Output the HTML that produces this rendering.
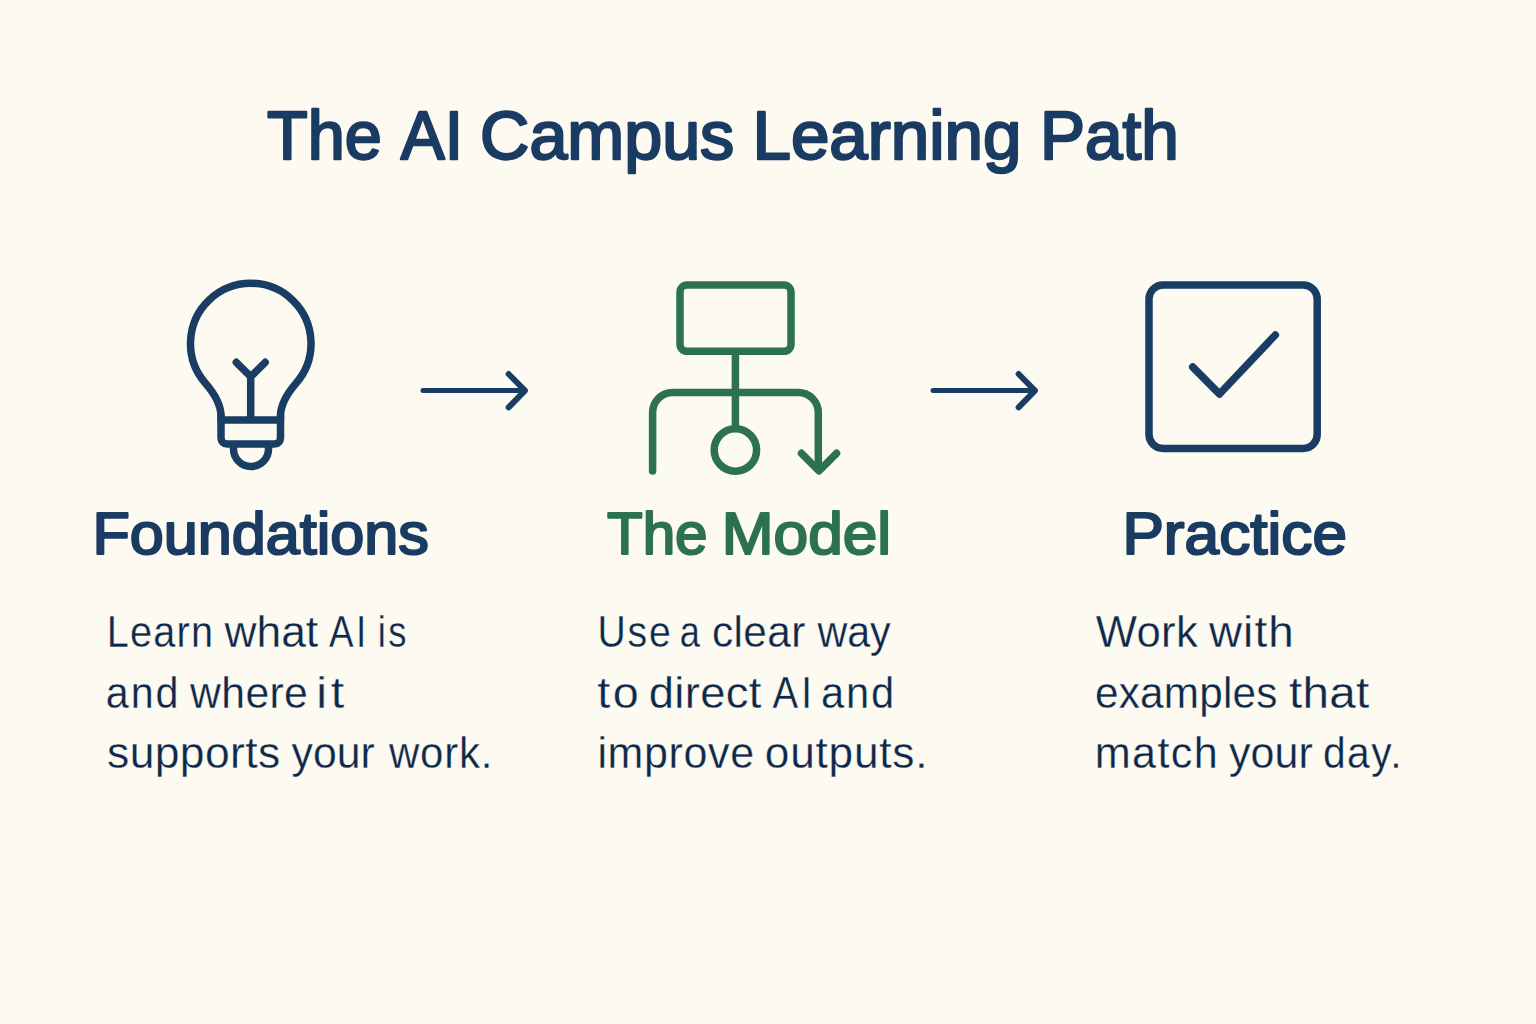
<!DOCTYPE html>
<html><head><meta charset="utf-8"><title>The AI Campus Learning Path</title>
<style>
html,body{margin:0;padding:0;background:#FDFAF1;}
body{width:1536px;height:1024px;overflow:hidden;position:relative;}
svg{position:absolute;left:0;top:0;display:block;}
text{font-family:"Liberation Sans",sans-serif;white-space:pre;}
</style></head>
<body>
<svg width="1536" height="1024" viewBox="0 0 1536 1024">
<rect x="0" y="0" width="1536" height="1024" fill="#FDFAF1"/>
<g fill="none" stroke="#1A3D63" stroke-width="7.5" stroke-linecap="round" stroke-linejoin="round">
<!-- lightbulb -->
<path d="M221 420 L221 416 C221 404 213.1 392.1 205.25 383 A60.25 60.25 0 1 1 296.25 383 C288.4 392.1 280.5 404 280.5 416 L280.5 420"/>
<path d="M236.3 362.3 L250.7 376.7 L265.2 362.3 M250.7 376.7 L250.7 417"/>
<path d="M221 416 L221 438 A6 6 0 0 0 227 444 L274.5 444 A6 6 0 0 0 280.5 438 L280.5 416 M221 420 L280.5 420"/>
<path d="M233.5 447 L233.5 449 A17.5 17.5 0 0 0 268.5 449 L268.5 447"/>
<!-- arrows -->
<path d="M423 390.6 L523 390.6" stroke-width="5.0"/><path d="M508.6 374 L525 390.6 L508.6 407.4" stroke-width="5.9"/>
<path d="M933 390.6 L1033 390.6" stroke-width="5.0"/><path d="M1018.6 374 L1035 390.6 L1018.6 407.4" stroke-width="5.9"/>
<!-- checkbox -->
<rect x="1149" y="285" width="168.2" height="163.4" rx="14" ry="14"/>
<path d="M1192.7 367 L1219.5 394 L1275.3 335"/>
</g>
<g fill="none" stroke="#2C7150" stroke-width="7.5" stroke-linecap="round" stroke-linejoin="round">
<rect x="680" y="285" width="111" height="66.3" rx="7" ry="7"/>
<path d="M735.4 354 L735.4 425"/>
<path d="M652.6 471 L652.6 412.6 A20 20 0 0 1 672.6 392.6 L798.3 392.6 A20 20 0 0 1 818.3 412.6 L818.3 469"/>
<circle cx="735.4" cy="450" r="21.2"/>
<path d="M801.5 453.3 L819 470.8 L836.5 453.3"/>
</g>
<text x="267.0" y="159.2" font-size="68.56"  fill="#1A3B62" stroke="#1A3B62" stroke-width="2.4" stroke-linejoin="round" textLength="114.64" lengthAdjust="spacingAndGlyphs">The</text>
<text x="400.82" y="159.2" font-size="68.56"  fill="#1A3B62" stroke="#1A3B62" stroke-width="2.4" stroke-linejoin="round" textLength="62.15" lengthAdjust="spacingAndGlyphs">AI</text>
<text x="480.12" y="159.2" font-size="68.56"  fill="#1A3B62" stroke="#1A3B62" stroke-width="2.4" stroke-linejoin="round" textLength="254.13" lengthAdjust="spacingAndGlyphs">Campus</text>
<text x="752.52" y="159.2" font-size="68.56"  fill="#1A3B62" stroke="#1A3B62" stroke-width="2.4" stroke-linejoin="round" textLength="268.88" lengthAdjust="spacingAndGlyphs">Learning</text>
<text x="1040.0" y="159.2" font-size="68.56"  fill="#1A3B62" stroke="#1A3B62" stroke-width="2.4" stroke-linejoin="round" textLength="138.79" lengthAdjust="spacingAndGlyphs">Path</text>
<text x="92.4" y="553.8" font-size="59.99"  fill="#1A3B62" stroke="#1A3B62" stroke-width="2.2" stroke-linejoin="round" textLength="336.5" lengthAdjust="spacingAndGlyphs">Foundations</text>
<text x="607.0" y="553.8" font-size="59.99"  fill="#2C7150" stroke="#2C7150" stroke-width="2.2" stroke-linejoin="round" textLength="100.6" lengthAdjust="spacingAndGlyphs">The</text>
<text x="721.78" y="553.8" font-size="59.99"  fill="#2C7150" stroke="#2C7150" stroke-width="2.2" stroke-linejoin="round" textLength="169.42" lengthAdjust="spacingAndGlyphs">Model</text>
<text x="1122.4" y="553.8" font-size="59.99"  fill="#1A3B62" stroke="#1A3B62" stroke-width="2.2" stroke-linejoin="round" textLength="224.6" lengthAdjust="spacingAndGlyphs">Practice</text>
<text transform="translate(106.8 647.2) scale(0.892 1)" x="0" y="0" font-size="44.5"  fill="#0E2849" stroke="#FDFAF1" stroke-width="0.3" stroke-linejoin="round" textLength="119.04" lengthAdjust="spacing">Learn</text>
<text transform="translate(224.56 647.2) scale(0.997 1)" x="0" y="0" font-size="44.5"  fill="#0E2849" stroke="#FDFAF1" stroke-width="0.3" stroke-linejoin="round" textLength="93.8" lengthAdjust="spacing">what</text>
<text transform="translate(329.0 647.2) scale(0.828 1)" x="0" y="0" font-size="44.5"  fill="#0E2849" stroke="#FDFAF1" stroke-width="0.3" stroke-linejoin="round" textLength="44.95" lengthAdjust="spacing">AI</text>
<text transform="translate(377.72 647.2) scale(0.816 1)" x="0" y="0" font-size="44.5"  fill="#0E2849" stroke="#FDFAF1" stroke-width="0.3" stroke-linejoin="round" textLength="35.2" lengthAdjust="spacing">is</text>
<text transform="translate(597.48 647.2) scale(0.88 1)" x="0" y="0" font-size="44.5"  fill="#0E2849" stroke="#FDFAF1" stroke-width="0.3" stroke-linejoin="round" textLength="83.25" lengthAdjust="spacing">Use</text>
<text transform="translate(679.8 647.2) scale(0.815 1)" x="0" y="0" font-size="44.5"  fill="#0E2849" stroke="#FDFAF1" stroke-width="0.3" stroke-linejoin="round" textLength="43.07" lengthAdjust="spacing">a</text>
<text transform="translate(711.96 647.2) scale(0.951 1)" x="0" y="0" font-size="44.5"  fill="#0E2849" stroke="#FDFAF1" stroke-width="0.3" stroke-linejoin="round" textLength="98.17" lengthAdjust="spacing">clear</text>
<text transform="translate(817.5 647.2) scale(0.927 1)" x="0" y="0" font-size="44.5"  fill="#0E2849" stroke="#FDFAF1" stroke-width="0.3" stroke-linejoin="round" textLength="78.96" lengthAdjust="spacing">way</text>
<text transform="translate(1095.82 647.2) scale(0.981 1)" x="0" y="0" font-size="44.5"  fill="#0E2849" stroke="#FDFAF1" stroke-width="0.3" stroke-linejoin="round" textLength="103.91" lengthAdjust="spacing">Work</text>
<text transform="translate(1208.94 647.2) scale(1.029 1)" x="0" y="0" font-size="44.5"  fill="#0E2849" stroke="#FDFAF1" stroke-width="0.3" stroke-linejoin="round" textLength="82.39" lengthAdjust="spacing">with</text>
<text transform="translate(105.72 707.8) scale(0.927 1)" x="0" y="0" font-size="44.5"  fill="#0E2849" stroke="#FDFAF1" stroke-width="0.3" stroke-linejoin="round" textLength="78.49" lengthAdjust="spacing">and</text>
<text transform="translate(190.12 707.8) scale(0.961 1)" x="0" y="0" font-size="44.5"  fill="#0E2849" stroke="#FDFAF1" stroke-width="0.3" stroke-linejoin="round" textLength="122.46" lengthAdjust="spacing">where</text>
<text transform="translate(316.18 707.8) scale(1.087 1)" x="0" y="0" font-size="44.5"  fill="#0E2849" stroke="#FDFAF1" stroke-width="0.3" stroke-linejoin="round" textLength="25.72" lengthAdjust="spacing">it</text>
<text transform="translate(597.32 707.8) scale(1.05 1)" x="0" y="0" font-size="44.5"  fill="#0E2849" stroke="#FDFAF1" stroke-width="0.3" stroke-linejoin="round" textLength="39.56" lengthAdjust="spacing">to</text>
<text transform="translate(648.66 707.8) scale(1.019 1)" x="0" y="0" font-size="44.5"  fill="#0E2849" stroke="#FDFAF1" stroke-width="0.3" stroke-linejoin="round" textLength="110.7" lengthAdjust="spacing">direct</text>
<text transform="translate(772.44 707.8) scale(0.862 1)" x="0" y="0" font-size="44.5"  fill="#0E2849" stroke="#FDFAF1" stroke-width="0.3" stroke-linejoin="round" textLength="45.85" lengthAdjust="spacing">AI</text>
<text transform="translate(821.02 707.8) scale(0.936 1)" x="0" y="0" font-size="44.5"  fill="#0E2849" stroke="#FDFAF1" stroke-width="0.3" stroke-linejoin="round" textLength="78.14" lengthAdjust="spacing">and</text>
<text transform="translate(1095.02 707.8) scale(0.95 1)" x="0" y="0" font-size="44.5"  fill="#0E2849" stroke="#FDFAF1" stroke-width="0.3" stroke-linejoin="round" textLength="192.08" lengthAdjust="spacing">examples</text>
<text transform="translate(1288.88 707.8) scale(1.069 1)" x="0" y="0" font-size="44.5"  fill="#0E2849" stroke="#FDFAF1" stroke-width="0.3" stroke-linejoin="round" textLength="75.19" lengthAdjust="spacing">that</text>
<text transform="translate(107.08 767.7) scale(0.999 1)" x="0" y="0" font-size="44.5"  fill="#0E2849" stroke="#FDFAF1" stroke-width="0.3" stroke-linejoin="round" textLength="173.27" lengthAdjust="spacing">supports</text>
<text transform="translate(291.56 767.7) scale(0.961 1)" x="0" y="0" font-size="44.5"  fill="#0E2849" stroke="#FDFAF1" stroke-width="0.3" stroke-linejoin="round" textLength="86.58" lengthAdjust="spacing">your</text>
<text transform="translate(389.0 767.7) scale(0.944 1)" x="0" y="0" font-size="44.5"  fill="#0E2849" stroke="#FDFAF1" stroke-width="0.3" stroke-linejoin="round" textLength="109.53" lengthAdjust="spacing">work.</text>
<text transform="translate(597.42 767.7) scale(0.966 1)" x="0" y="0" font-size="44.5"  fill="#0E2849" stroke="#FDFAF1" stroke-width="0.3" stroke-linejoin="round" textLength="162.15" lengthAdjust="spacing">improve</text>
<text transform="translate(764.84 767.7) scale(0.994 1)" x="0" y="0" font-size="44.5"  fill="#0E2849" stroke="#FDFAF1" stroke-width="0.3" stroke-linejoin="round" textLength="163.66" lengthAdjust="spacing">outputs.</text>
<text transform="translate(1094.86 767.7) scale(0.969 1)" x="0" y="0" font-size="44.5"  fill="#0E2849" stroke="#FDFAF1" stroke-width="0.3" stroke-linejoin="round" textLength="126.67" lengthAdjust="spacing">match</text>
<text transform="translate(1228.88 767.7) scale(0.965 1)" x="0" y="0" font-size="44.5"  fill="#0E2849" stroke="#FDFAF1" stroke-width="0.3" stroke-linejoin="round" textLength="86.86" lengthAdjust="spacing">your</text>
<text transform="translate(1322.96 767.7) scale(0.916 1)" x="0" y="0" font-size="44.5"  fill="#0E2849" stroke="#FDFAF1" stroke-width="0.3" stroke-linejoin="round" textLength="85.7" lengthAdjust="spacing">day.</text>
</svg>
</body></html>
